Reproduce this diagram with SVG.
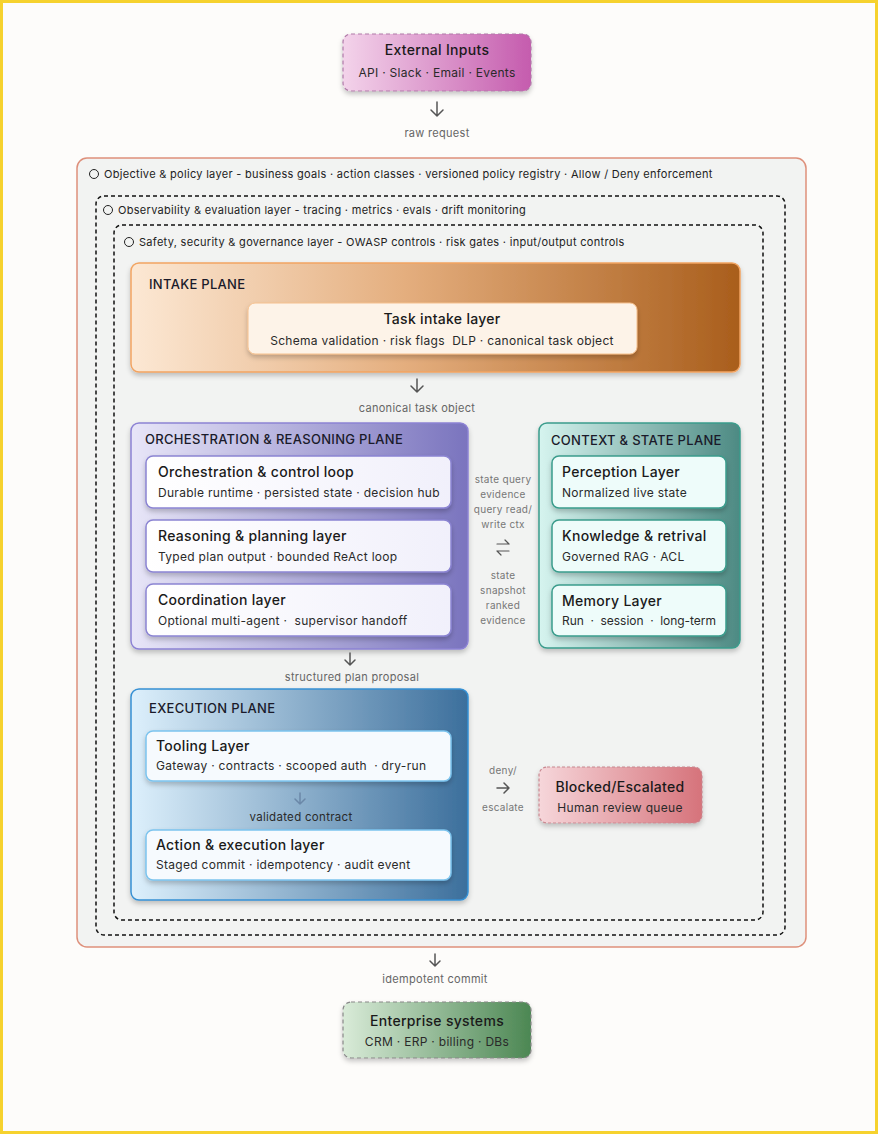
<svg xmlns="http://www.w3.org/2000/svg" width="878" height="1134" viewBox="0 0 878 1134">
<defs>
<linearGradient id="gPink" x1="0" y1="0" x2="1" y2="0"><stop offset="0" stop-color="#F3D3EA"/><stop offset="1" stop-color="#C55CAE"/></linearGradient>
<linearGradient id="gIntake" x1="0" y1="0" x2="1" y2="0"><stop offset="0" stop-color="#FCE8D4"/><stop offset="0.45" stop-color="#E4AE7E"/><stop offset="1" stop-color="#A95E1C"/></linearGradient>
<linearGradient id="gOrch" x1="0" y1="0" x2="1" y2="0"><stop offset="0" stop-color="#E8E6F8"/><stop offset="1" stop-color="#7A74BE"/></linearGradient>
<linearGradient id="gCtx" x1="0" y1="0" x2="1" y2="0"><stop offset="0" stop-color="#D6F4EF"/><stop offset="1" stop-color="#4D8A83"/></linearGradient>
<linearGradient id="gExec" x1="0" y1="0" x2="1" y2="0"><stop offset="0" stop-color="#DDF0FC"/><stop offset="1" stop-color="#3C6F9C"/></linearGradient>
<linearGradient id="gRed" x1="0" y1="0" x2="1" y2="0"><stop offset="0" stop-color="#F6D6DA"/><stop offset="1" stop-color="#D6737B"/></linearGradient>
<linearGradient id="gGreen" x1="0" y1="0" x2="1" y2="0"><stop offset="0" stop-color="#D9EBD8"/><stop offset="1" stop-color="#4C8753"/></linearGradient>
<linearGradient id="gInner" x1="0" y1="0" x2="1" y2="0"><stop offset="0" stop-color="#FFFFFF"/><stop offset="1" stop-color="#F1F0FB"/></linearGradient>
<filter id="sh" x="-10%" y="-20%" width="120%" height="150%"><feDropShadow dx="0" dy="3" stdDeviation="2.5" flood-color="#000" flood-opacity="0.22"/></filter>
</defs>
<style>
text{font-family:Inter,"Liberation Sans",sans-serif;fill:#222;letter-spacing:0.3px;white-space:pre}
.t{font-size:14px;font-weight:500;fill:#1a1a1a}
.s{font-size:12px;fill:#2a2a2a}
.pl{font-size:13px;font-weight:500;fill:#1a1a2a}
.lab{font-size:11px;fill:#666}
.lay{font-size:11px;fill:#222}
.mid{font-size:10px;fill:#777;text-anchor:middle}
.c{text-anchor:middle}
.inner{fill:url(#gInner);stroke:#8B84D2;stroke-width:1.5}
.arr{fill:none;stroke:#555;stroke-width:1.5;stroke-linecap:round;stroke-linejoin:round}
</style>
<rect x="1.5" y="1.5" width="875" height="1131" fill="#FDFCFA" stroke="#F6D22E" stroke-width="3"/>

<g id="layers">
<rect x="77" y="158" width="729" height="789" rx="10" fill="#F2F3F2" stroke="#DE907B" stroke-width="1.5"/>
<circle cx="94" cy="174" r="4.5" fill="none" stroke="#222" stroke-width="1"/>
<text x="104" y="178" class="lay">Objective &amp; policy layer - business goals · action classes · versioned policy registry · Allow / Deny enforcement</text>
<rect x="96" y="196" width="689" height="739" rx="8" fill="none" stroke="#111" stroke-width="1.5" stroke-dasharray="4 3"/>
<circle cx="108" cy="210" r="4.5" fill="none" stroke="#222" stroke-width="1"/>
<text x="118" y="214" class="lay">Observability &amp; evaluation layer - tracing · metrics · evals · drift monitoring</text>
<rect x="114" y="225" width="649" height="695" rx="8" fill="none" stroke="#111" stroke-width="1.5" stroke-dasharray="4 3"/>
<circle cx="129" cy="242" r="4.5" fill="none" stroke="#222" stroke-width="1"/>
<text x="139" y="246" class="lay">Safety, security &amp; governance layer - OWASP controls · risk gates · input/output controls</text>
</g>

<g id="external-inputs">
<rect x="343" y="34" width="188" height="57" rx="8" fill="url(#gPink)" stroke="#B07AA8" stroke-width="1.2" stroke-dasharray="4 3" filter="url(#sh)"/>
<text x="437" y="55" class="t c">External Inputs</text>
<text x="437" y="77" class="s c">API · Slack · Email · Events</text>
</g>

<g id="intake-plane">
<rect x="131" y="263" width="609" height="109" rx="8" fill="url(#gIntake)" stroke="#F2A462" stroke-width="1.5" filter="url(#sh)"/>
<text x="149" y="289" class="pl">INTAKE PLANE</text>
<g id="task-intake">
<rect x="248" y="303" width="389" height="51" rx="7" fill="#FDF3E8" stroke="#F5C08E" stroke-width="1" filter="url(#sh)"/>
<text x="442" y="324" class="t c">Task intake layer</text>
<text x="442" y="345" class="s c">Schema validation · risk flags  DLP · canonical task object</text>
</g>
</g>

<g id="orchestration-plane">
<rect x="131" y="423" width="337" height="226" rx="8" fill="url(#gOrch)" stroke="#8C82D4" stroke-width="1.5" filter="url(#sh)"/>
<text x="145" y="444" class="pl">ORCHESTRATION &amp; REASONING PLANE</text>
<g id="orchestration-loop">
<rect x="146" y="456" width="305" height="52" rx="7" class="inner" filter="url(#sh)"/>
<text x="158" y="477" class="t">Orchestration &amp; control loop</text>
<text x="158" y="497" class="s">Durable runtime · persisted state · decision hub</text>
</g>
<g id="reasoning-layer">
<rect x="146" y="520" width="305" height="52" rx="7" class="inner" filter="url(#sh)"/>
<text x="158" y="541" class="t">Reasoning &amp; planning layer</text>
<text x="158" y="561" class="s">Typed plan output · bounded ReAct loop</text>
</g>
<g id="coordination-layer">
<rect x="146" y="584" width="305" height="52" rx="7" class="inner" filter="url(#sh)"/>
<text x="158" y="605" class="t">Coordination layer</text>
<text x="158" y="625" class="s">Optional multi-agent ·  supervisor handoff</text>
</g>
</g>

<g id="context-plane">
<rect x="539" y="423" width="201" height="225" rx="8" fill="url(#gCtx)" stroke="#3A9C8C" stroke-width="1.5" filter="url(#sh)"/>
<text x="551" y="445" class="pl">CONTEXT &amp; STATE PLANE</text>
<g id="perception-layer">
<rect x="552" y="456" width="174" height="52" rx="7" fill="#EEFCFA" stroke="#3A9C8C" stroke-width="1.5" filter="url(#sh)"/>
<text x="562" y="477" class="t">Perception Layer</text>
<text x="562" y="497" class="s">Normalized live state</text>
</g>
<g id="knowledge-retrieval">
<rect x="552" y="520" width="174" height="52" rx="7" fill="#EEFCFA" stroke="#3A9C8C" stroke-width="1.5" filter="url(#sh)"/>
<text x="562" y="541" class="t">Knowledge &amp; retrival</text>
<text x="562" y="561" class="s">Governed RAG · ACL</text>
</g>
<g id="memory-layer">
<rect x="552" y="585" width="174" height="51" rx="7" fill="#EEFCFA" stroke="#3A9C8C" stroke-width="1.5" filter="url(#sh)"/>
<text x="562" y="606" class="t">Memory Layer</text>
<text x="562" y="625" class="s" style="letter-spacing:0" textLength="154" lengthAdjust="spacing">Run  ·  session  ·  long-term</text>
</g>
</g>

<g id="execution-plane">
<rect x="131" y="689" width="337" height="211" rx="8" fill="url(#gExec)" stroke="#3590D4" stroke-width="1.5" filter="url(#sh)"/>
<text x="149" y="713" class="pl">EXECUTION PLANE</text>
<g id="tooling-layer">
<rect x="146" y="731" width="305" height="50" rx="7" fill="#F6FAFE" stroke="#7CC4EE" stroke-width="1.5" filter="url(#sh)"/>
<text x="156" y="751" class="t">Tooling Layer</text>
<text x="156" y="770" class="s">Gateway · contracts · scooped auth  · dry-run</text>
</g>
<g id="action-layer">
<rect x="146" y="830" width="305" height="50" rx="7" fill="#F6FAFE" stroke="#7CC4EE" stroke-width="1.5" filter="url(#sh)"/>
<text x="156" y="850" class="t">Action &amp; execution layer</text>
<text x="156" y="869" class="s">Staged commit · idempotency · audit event</text>
</g>
</g>

<g id="blocked-escalated">
<rect x="539" y="767" width="163" height="56" rx="8" fill="url(#gRed)" stroke="#C88890" stroke-width="1.2" stroke-dasharray="3 2" filter="url(#sh)"/>
<text x="620" y="792" class="t c">Blocked/Escalated</text>
<text x="620" y="812" class="s c">Human review queue</text>
</g>

<g id="enterprise-systems">
<rect x="343" y="1002" width="188" height="56" rx="8" fill="url(#gGreen)" stroke="#888" stroke-width="1.2" stroke-dasharray="4 3" filter="url(#sh)"/>
<text x="437" y="1026" class="t c">Enterprise systems</text>
<text x="437" y="1046" class="s c">CRM · ERP · billing · DBs</text>
</g>

<g id="connectors">
<path class="arr" d="M437 102 V116 M431 110 L437 116 L443 110"/>
<text x="437" y="137" class="lab c">raw request</text>
<path class="arr" d="M417 379 V392 M411 386 L417 392 L423 386"/>
<text x="417" y="412" class="lab c">canonical task object</text>
<text x="503" y="483" class="mid">state query</text>
<text x="503" y="498" class="mid">evidence</text>
<text x="503" y="513" class="mid">query read/</text>
<text x="503" y="528" class="mid">write ctx</text>
<path class="arr" style="stroke-width:1.2" d="M497 544 H509 M505 540 L509 544 M497 551 H509 M497 551 L501 555"/>
<text x="503" y="579" class="mid">state</text>
<text x="503" y="594" class="mid">snapshot</text>
<text x="503" y="609" class="mid">ranked</text>
<text x="503" y="624" class="mid">evidence</text>
<path class="arr" d="M350 653 V665 M345 660 L350 665 L355 660"/>
<text x="352" y="681" class="lab c">structured plan proposal</text>
<path class="arr" style="stroke:#6B88A8" d="M300 793 V804 M295 799 L300 804 L305 799"/>
<text x="301" y="821" class="s c" style="font-size:11.5px">validated contract</text>
<text x="503" y="774" class="mid">deny/</text>
<path class="arr" d="M497 788 H509 M504 783 L509 788 L504 793"/>
<text x="503" y="811" class="mid">escalate</text>
<path class="arr" d="M435 954 V966 M430 961 L435 966 L440 961"/>
<text x="435" y="983" class="lab c">idempotent commit</text>
</g>
</svg>
